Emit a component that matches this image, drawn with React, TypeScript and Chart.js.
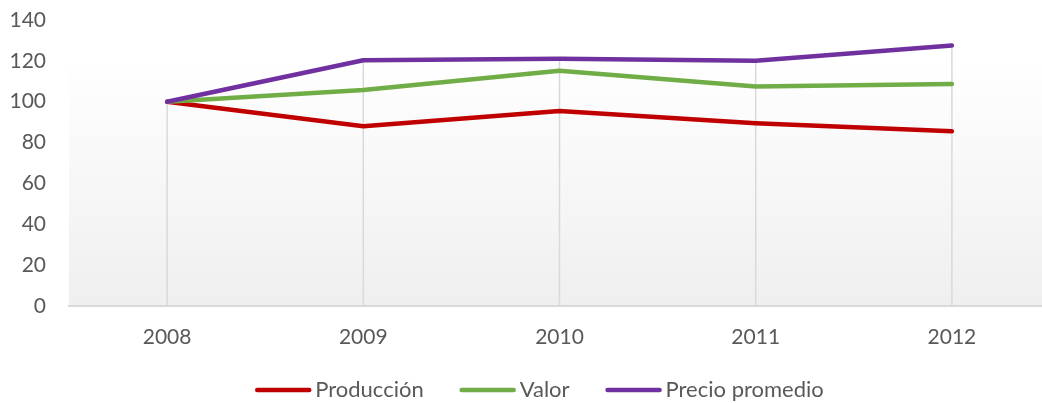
import React, { useEffect, useRef } from "react";
import { Chart, registerables } from "chart.js";

Chart.register(...registerables);

const categories = ["2008", "2009", "2010", "2011", "2012"];
const produccion = [100, 88, 95.5, 89.5, 85.5];
const valor = [100, 105.7, 115.2, 107.5, 108.7];
const precioPromedio = [100, 120.3, 121, 120, 127.5];
const yTicks = [0, 20, 40, 60, 80, 100, 120, 140];

const TEXT = "#595959";
const FONT = "Lato";

const backgroundPlugin = {
  id: "plotGradient",
  beforeDraw(chart: any) {
    const { ctx, chartArea } = chart;
    if (!chartArea) return;
    const h = chartArea.bottom - chartArea.top;
    const top = chartArea.top + h * 0.13;
    const g = ctx.createLinearGradient(0, top, 0, chartArea.bottom);
    g.addColorStop(0, "#ffffff");
    g.addColorStop(1, "#efefef");
    ctx.save();
    ctx.fillStyle = g;
    ctx.fillRect(chartArea.left, top, chartArea.right - chartArea.left, chartArea.bottom - top);
    ctx.restore();
  },
};

const dropLinesPlugin = {
  id: "dropLines",
  beforeDatasetsDraw(chart: any) {
    const { ctx, chartArea, scales } = chart;
    const xs = scales.x;
    const ys = scales.y;
    ctx.save();
    ctx.strokeStyle = "#d9d9d9";
    ctx.lineWidth = 1.5;
    categories.forEach((_, i) => {
      let max = -Infinity;
      chart.data.datasets.forEach((ds: any) => {
        if (ds.data[i] > max) max = ds.data[i];
      });
      const x = xs.getPixelForValue(i);
      ctx.beginPath();
      ctx.moveTo(x, ys.getPixelForValue(max));
      ctx.lineTo(x, chartArea.bottom);
      ctx.stroke();
    });
    ctx.restore();
  },
};

// Excel-style legend: long line sample, text right next to it, centred row
const legendPlugin = {
  id: "excelLegend",
  afterDraw(chart: any) {
    const { ctx } = chart;
    const lineLen = 56;
    const textGap = 4;
    const itemGap = 36;
    const centerX = 539.5;
    const baseY = 397;
    const lineY = 390;
    ctx.save();
    ctx.font = `22px ${FONT}`;
    const items = chart.data.datasets.map((ds: any) => ({
      label: ds.label,
      color: ds.borderColor,
      w: ctx.measureText(ds.label).width,
    }));
    let total = 0;
    items.forEach((it: any, i: number) => {
      total += lineLen + textGap + it.w + (i < items.length - 1 ? itemGap : 0);
    });
    let x = centerX - total / 2;
    items.forEach((it: any) => {
      ctx.strokeStyle = it.color;
      ctx.lineWidth = 4.5;
      ctx.lineCap = "round";
      ctx.beginPath();
      ctx.moveTo(x + 2, lineY);
      ctx.lineTo(x + lineLen - 2, lineY);
      ctx.stroke();
      x += lineLen + textGap;
      ctx.fillStyle = TEXT;
      ctx.textAlign = "left";
      ctx.textBaseline = "alphabetic";
      ctx.fillText(it.label, x, baseY);
      x += it.w + itemGap;
    });
    ctx.restore();
  },
};

export default function App() {
  const ref = useRef<HTMLCanvasElement | null>(null);

  useEffect(() => {
    if (!ref.current) return;
    const mk = (label: string, data: number[], color: string, order: number) => ({
      label,
      data,
      borderColor: color,
      backgroundColor: color,
      borderWidth: 4.5,
      pointRadius: 0,
      pointHoverRadius: 0,
      tension: 0,
      borderCapStyle: "round" as const,
      borderJoinStyle: "round" as const,
      order,
    });
    const chart = new Chart(ref.current, {
      type: "line",
      data: {
        labels: categories,
        datasets: [
          mk("Producción", produccion, "#C00000", 3),
          mk("Valor", valor, "#70AD47", 2),
          mk("Precio promedio", precioPromedio, "#7030A0", 1),
        ],
      },
      options: {
        animation: false,
        responsive: true,
        maintainAspectRatio: false,
        layout: { autoPadding: false, padding: { top: 20, left: 0, right: 10, bottom: 57 } },
        scales: {
          x: {
            offset: true,
            grid: { display: false, drawTicks: false },
            border: { display: true, color: "#d9d9d9", width: 2 },
            ticks: { color: TEXT, font: { family: FONT, size: 21 }, padding: 19, maxRotation: 0 },
            afterFit: (s: any) => {
              s.height = 40;
              s.paddingLeft = 0;
              s.paddingRight = 0;
            },
          },
          y: {
            min: 0,
            max: 140,
            afterBuildTicks: (s: any) => {
              s.ticks = yTicks.map((v) => ({ value: v }));
            },
            grid: { display: false, drawTicks: false },
            border: { display: false },
            ticks: { color: TEXT, font: { family: FONT, size: 21 }, padding: 23 },
            afterFit: (s: any) => {
              s.width = 69;
              s.paddingTop = 0;
              s.paddingBottom = 0;
            },
          },
        },
        plugins: {
          legend: { display: false },
          tooltip: { enabled: false },
        },
      },
      plugins: [backgroundPlugin, dropLinesPlugin, legendPlugin],
    });
    return () => chart.destroy();
  }, []);

  return (
    <div style={{ position: "fixed", left: 0, top: 0, width: 1042, height: 403, overflow: "hidden", background: "#fff" }}>
      <div style={{ position: "absolute", left: 0, top: 0, width: 1060, height: 403 }}>
        <canvas ref={ref} />
      </div>
    </div>
  );
}
